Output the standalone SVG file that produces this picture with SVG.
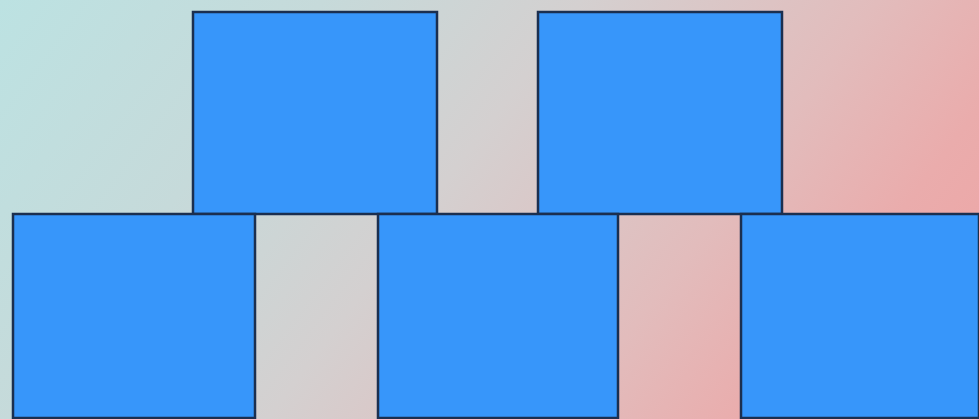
<svg xmlns="http://www.w3.org/2000/svg" width="979" height="419" viewBox="0 0 979 419">
<defs>
<linearGradient id="bg" gradientUnits="userSpaceOnUse" x1="0" y1="0" x2="827" y2="620">
<stop offset="0" stop-color="#bce2e2"/>
<stop offset="0.25" stop-color="#c6dada"/>
<stop offset="0.45" stop-color="#d4d0d0"/>
<stop offset="0.68" stop-color="#e2bcbc"/>
<stop offset="0.82" stop-color="#eaacac"/>
<stop offset="1" stop-color="#f0a2a2"/>
</linearGradient>
<style>
.sq{fill:#3796fa;stroke:#1b2f4f;stroke-width:2.5}
</style>
</defs>
<rect x="0" y="0" width="979" height="419" fill="url(#bg)"/>
<g id="top-left"><rect class="sq" x="193" y="12" width="244" height="202"/></g>
<g id="top-right"><rect class="sq" x="538" y="12" width="244" height="202"/></g>
<g id="bottom-left"><rect class="sq" x="13" y="214" width="242" height="204"/></g>
<g id="bottom-middle"><rect class="sq" x="378" y="214" width="240" height="204"/></g>
<g id="bottom-right"><rect class="sq" x="741" y="214" width="238" height="204"/></g>
<g id="connectors"></g>
</svg>
